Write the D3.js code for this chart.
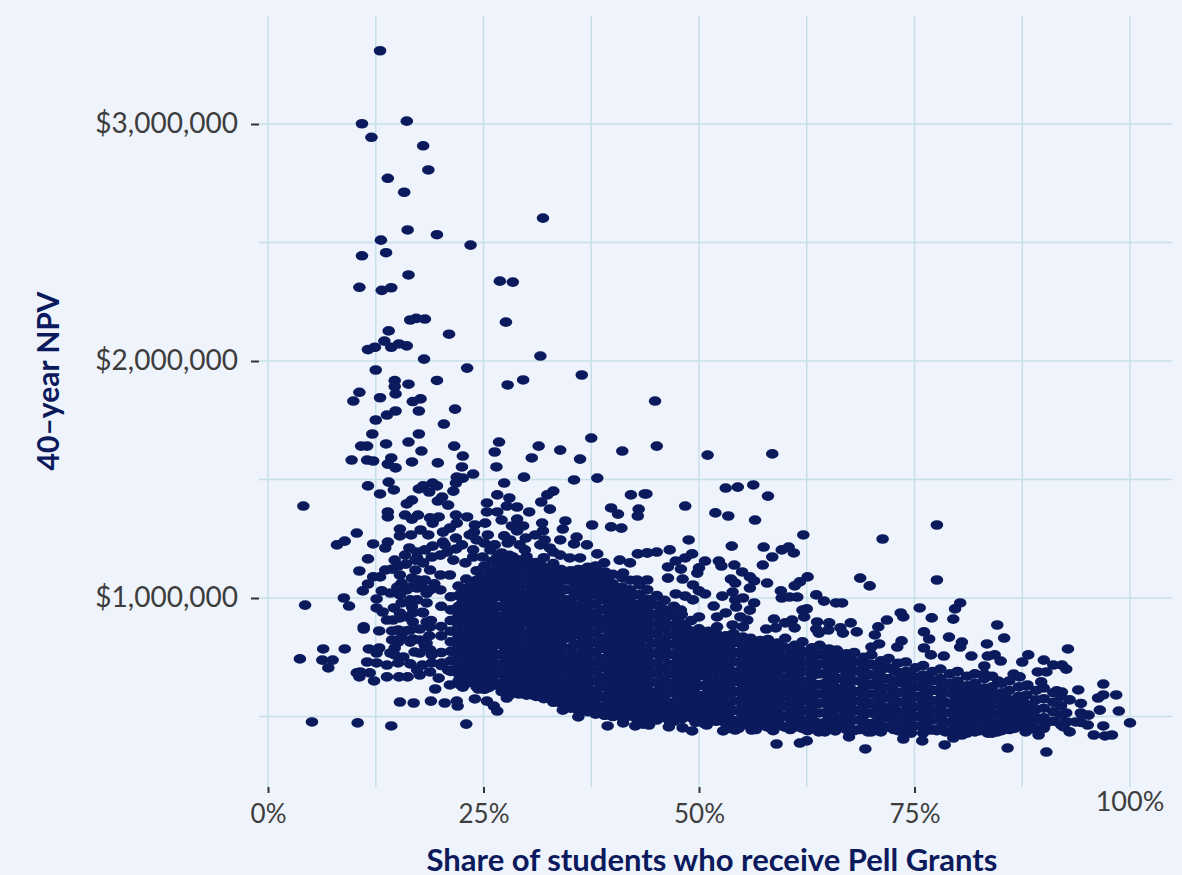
<!DOCTYPE html>
<html>
<head>
<meta charset="utf-8">
<script src="https://cdn.jsdelivr.net/npm/d3@7"></script>
<style>
  html, body { margin: 0; padding: 0; background: #eff3fb; overflow: hidden; }
  text { font-family: Lato, "Open Sans", sans-serif; }
</style>
</head>
<body>
<div id="chart"></div>
<script>
// Tick values and labels
const xTicks = [0, 25, 50, 75];
const xGrid = [0, 12.5, 25, 37.5, 50, 62.5, 75, 87.5, 100];
const yTicks = [1000, 2000, 3000];
const yGrid = [500, 1000, 1500, 2000, 2500, 3000];

// Individually readable colleges: [Pell share %, NPV in $ thousands]
const topPoints = [
  [13.0,3309],[10.9,3001],[16.1,3012],[12.0,2944],[18.0,2908],[18.6,2806],[13.9,2771],[15.8,2712],[16.2,2553],[19.6,2533],
  [13.1,2510],[10.9,2444],[13.7,2457],[16.3,2363],[10.6,2311],[13.2,2298],[14.3,2309],[16.5,2173],[17.2,2180],[18.2,2177],
  [21.0,2113],[14.0,2127],[13.5,2084],[15.2,2072],[16.1,2064],[14.3,2058],[12.4,2058],[11.6,2048],[18.1,2008],[12.5,1962],
  [14.7,1917],[14.7,1892],[16.3,1902],[19.6,1918],[10.6,1868],[14.8,1861],[13.0,1845],[9.9,1831],[17.7,1840],[16.8,1829],
  [31.9,2603],[23.5,2489],[26.9,2337],[28.4,2333],[27.6,2164],[31.6,2021],[23.1,1970],[36.4,1941],[29.6,1920],[27.8,1899],
  [44.9,1831],[21.7,1797],[20.4,1734],[17.5,1789],[14.8,1789],[13.8,1772],[12.5,1751],[17.5,1692],[12.1,1692],[16.3,1658],
  [13.7,1650],[10.8,1641],[11.5,1641],[21.6,1641],[26.8,1658],[26.3,1616],[17.8,1620],[22.6,1599],[31.4,1641],[30.6,1591],
  [33.9,1624],[37.5,1675],[41.1,1620],[36.2,1586],[9.7,1582],[11.5,1582],[12.2,1578],[14.3,1591],[13.9,1565],[14.8,1549],
  [16.7,1574],[19.7,1570],[22.5,1553],[26.5,1553],[23.8,1523],[21.9,1510],[22.6,1506],[29.7,1510],[35.5,1498],[38.2,1506],
  [27.4,1485],[11.6,1473],[14.0,1489],[13.0,1439],[14.6,1456],[18.0,1473],[19.1,1485],[19.6,1473],[17.5,1460],[18.7,1447],
  [21.8,1485],[21.5,1451],[26.6,1435],[28.0,1422],[33.1,1451],[32.4,1435],[31.7,1405],[42.1,1435],[43.7,1439],[4.1,1388],
  [20.2,1426],[16.7,1413],[16.1,1397],[19.7,1409],[20.9,1392],[25.4,1401],[25.4,1363],[26.6,1363],[27.7,1388],[28.9,1384],
  [30.3,1363],[32.7,1375],[39.8,1380],[40.6,1354],[43.0,1375],[42.9,1346],[13.9,1363],[13.9,1342],[15.9,1350],[16.7,1333],
  [17.4,1350],[18.8,1338],[19.8,1342],[19.1,1316],[21.8,1350],[23.1,1342],[21.9,1316],[21.1,1295],[20.3,1278],[25.2,1316],
  [24.0,1308],[23.9,1278],[27.1,1329],[28.9,1333],[28.3,1304],[29.6,1304],[28.9,1283],[31.8,1316],[31.9,1283],[34.5,1325],
  [34.2,1291],[37.6,1308],[39.8,1300],[41.0,1295],[15.3,1291],[15.3,1262],[16.6,1266],[17.7,1287],[18.6,1266],[10.3,1274],
  [8.9,1240],[8.0,1224],[12.2,1228],[13.9,1236],[13.6,1211],[16.4,1211],[19.1,1219],[20.3,1236],[21.8,1253],[21.8,1207],
  [27.4,1262],[27.8,1232],[29.9,1253],[32.1,1245],[31.6,1224],[35.8,1257],[35.5,1228],[37.0,1224],[25.1,1232],[29.8,1203],
  [33.1,1194],[38.2,1186],[39.0,1148],[40.8,1160],[42.0,1148],[42.9,1186],[44.0,1190],[11.6,1165],[10.6,1114],[16.0,1143],
  [15.1,1135],[14.4,1122],[17.3,1194],[17.3,1169],[18.0,1148],[23.8,1203],[25.8,1203],[27.1,1190],[36.2,1169],[35.0,1169],[33.9,1181]
];

// Left edge of the main cloud and the colleges under it
const leftPoints = [
  [12.2,1089],[13.0,1089],[11.6,1059],[11.0,1030],[13.2,1030],[8.8,1000],[12.6,996],[4.3,970],[9.4,966],[12.6,958],
  [13.3,941],[13.8,907],[14.6,958],[15.0,1025],[14.2,1021],[15.5,1063],[16.7,1084],[17.4,1076],[16.1,1034],[16.5,992],
  [15.5,979],[16.1,920],[15.3,916],[11.1,878],[11.1,869],[12.9,861],[14.4,861],[15.9,861],[17.6,869],[14.4,823],
  [15.5,835],[16.8,827],[6.4,785],[8.9,785],[11.7,785],[12.9,789],[12.6,768],[14.7,789],[14.7,760],[17.0,772],
  [3.7,743],[6.3,738],[7.5,738],[7.0,705],[11.5,730],[12.6,726],[13.8,717],[15.1,726],[16.5,722],[10.7,688],
  [10.3,684],[11.8,684],[10.6,667],[12.3,650],[13.8,667],[15.2,667],[16.2,667],[17.6,675],[18.8,688],[19.8,662],
  [20.9,696],[19.4,616],[21.1,633],[22.3,633],[24.4,616],[26.5,633],[25.8,654],[15.3,561],[16.9,557],[18.9,565],
  [20.5,557],[21.9,565],[22.0,544],[24.0,574],[25.4,565],[26.2,544],[26.6,523],[27.7,578],[5.1,477],[10.4,473],
  [14.3,460],[23.0,468],[39.4,460],[39.0,506],[41.2,473],[42.6,460],[43.5,468],[36.0,498],[34.2,527],[37.9,553],
  [42.1,536],[39.4,570],[33.1,570],[35.3,557],[40.5,570],[30.7,591],
  [17.9,940],[18.4,1020],[18.9,905],[18.2,800],[19.0,760],[19.3,1060],[18.7,840]
];

// Ragged upper and left fringe of the cloud
const fringePoints = [
  [19.0,1173],[20.8,1194],[21.5,1160],[22.9,1148],[23.8,1173],[24.9,1173],[26.6,1173],[27.3,1160],[28.4,1173],[29.6,1148],
  [30.7,1148],[31.9,1131],[33.1,1131],[34.2,1105],[35.0,1105],[36.5,1118],[38.2,1118],[39.4,1089],[41.2,1105],[42.8,1076],
  [44.0,1076],[15.0,1046],[16.5,1046],[15.3,1013],[17.3,1042],[17.9,1046],[16.7,962],[17.3,992],[18.4,979],[15.3,937],
  [16.8,937],[18.0,937],[14.5,907],[16.8,899],[18.4,899],[15.1,865],[16.5,865],[18.8,878],[15.1,814],[16.5,814],
  [17.6,823],[18.4,810],[14.2,768],[15.7,751],[17.6,768],[18.8,781],[17.9,717],[19.0,726],[20.2,726],[17.3,696],
  [22.3,667],[23.4,667],[24.9,667],[21.5,696],[22.6,624],[24.2,1245],[25.5,1266],[26.3,1224],[28.1,1245],[29.2,1224],
  [31.0,1266],[32.7,1211],[33.9,1245],[23.4,1266],[22.5,1224],[20.5,1224],[20.0,1181],[18.2,1203],[17.1,1160],[15.9,1181],
  [14.7,1160],[15.3,1097],[13.6,1118],[18.8,1118],[20.0,1097],[21.1,1097],[18.2,1076],[17.1,1118],[20.0,1034],[18.8,1034]
];

// Scattered colleges above and below the long right-hand band
const rightPoints = [
  [45.1,1641],[51.0,1603],[58.5,1608],[43.9,1439],[48.4,1388],[53.1,1464],[54.5,1468],[56.3,1477],[58.0,1430],[51.9,1359],
  [53.4,1346],[56.5,1329],[62.1,1266],[48.8,1245],[71.3,1249],[77.6,1308],[77.6,1076],[53.8,1219],[57.5,1215],[59.6,1203],
  [60.4,1215],[61.0,1190],[58.5,1173],[57.4,1139],[57.9,1063],[62.6,1089],[61.7,1068],[61.1,1051],[68.7,1084],[69.8,1051],
  [46.6,1203],[45.1,1194],[44.0,1190],[49.2,1186],[48.4,1169],[47.3,1156],[50.7,1156],[52.3,1156],[52.6,1135],[54.1,1139],
  [50.0,1127],[49.8,1105],[47.9,1122],[48.1,1080],[46.4,1131],[46.4,1084],[55.0,1110],[55.9,1089],[56.4,1072],[53.7,1080],
  [55.9,1042],[54.2,1063],[49.3,1055],[50.0,1030],[50.7,1017],[52.7,1008],[53.9,1025],[47.3,1017],[48.4,1008],[49.3,992],
  [54.2,992],[55.1,1000],[56.4,979],[54.3,962],[55.9,949],[51.7,966],[53.1,937],[52.1,920],[47.9,949],[50.0,920],
  [54.8,920],[55.6,907],[52.1,878],[53.9,886],[55.1,878],[59.5,1030],[59.6,1000],[60.5,1004],[61.4,1004],[63.6,1013],
  [64.5,987],[65.9,979],[66.6,979],[62.5,954],[62.0,949],[62.2,920],[60.8,907],[60.0,895],[58.7,911],[61.1,874],
  [57.8,869],[58.9,874],[67.6,895],[68.3,857],[63.7,899],[65.1,895],[66.4,874],[63.6,869],[65.0,865],[63.9,852],
  [66.7,852],[71.8,907],[70.8,878],[70.4,844],[73.4,937],[73.7,920],[75.6,958],[77.0,916],[80.3,979],[79.7,954],
  [79.5,911],[76.1,857],[76.7,827],[79.0,835],[80.5,814],[80.3,793],[84.6,886],[85.4,831],[83.4,806],[73.5,819],
  [73.0,793],[70.9,806],[70.0,793],[76.1,789],[76.9,760],[78.4,755],[81.6,755],[83.5,755],[84.3,760],[85.0,734],
  [88.2,760],[87.5,730],[90.0,738],[92.8,785],[91.1,717],[92.1,717],[92.6,700],[89.3,688],[90.3,688],[89.7,646],
  [86.5,679],[87.2,667],[88.1,633],[84.7,650],[83.1,679],[83.1,713],[96.9,637],[94.0,612],[91.5,608],[92.1,603],
  [93.0,570],[96.3,578],[96.9,591],[98.4,591],[96.5,527],[98.7,523],[100,473],[94.4,510],[95.2,506],[92.6,515],
  [89.0,498],[92.7,477],[93.7,477],[95.1,464],[96.9,460],[90.1,464],[92.3,456],[93.0,435],[89.4,422],[87.9,435],
  [95.8,422],[97.1,418],[97.9,422],[90.3,350],[85.8,367],[78.5,380],[75.9,397],[73.7,405],[69.3,363],[67.4,414],
  [62.5,397],[61.7,388],[59.0,384],[79.5,409],[49.2,439],[48.1,452],[46.5,456],[50.9,464],[50.6,494],[52.8,439],
  [54.2,443],[56.1,443],[57.9,456],[60.3,452],[63.9,435],[65.8,439],[71.1,435],[76.9,443],[83.5,430],[80.5,422],
  [46.3,515],[48.5,510],[44.3,506],[44.2,464]
];

// Solid part of the cloud, estimated column by column (individual dots overlap here)
const coreShares = [
  20.1,21.2,22.1,23.0,24.2,25.1,26.0,27.1,28.0,29.1,30.0,31.1,32.0,33.1,34.0,35.1,36.0,37.1,38.0,39.1,
  40.0,41.1,42.0,43.1,44.0,45.1,46.0,47.1,48.0,49.1,50.0,51.1,52.0,53.1,54.0,55.1,56.0,57.1,58.0,59.1,
  60.0,61.1,62.0,63.1,64.0,65.1,66.0,67.1,68.0,69.1,70.0,71.1,72.0,73.1,74.0,75.1,76.0,77.1,78.0,79.1,
  80.0,81.1,82.0,83.1,84.0,85.1,86.0,87.1,88.0,89.1,90.0,91.1,92.0,94.3
];
const coreNpvs = [
  [965,880,840,770,715],
  [1005,950,905,860,815,775,735,690],
  [1050,1010,965,925,885,840,800,760,720,680,650],
  [1080,1040,1000,960,920,880,835,795,755,715,675,640],
  [1115,1075,1030,990,950,910,870,830,785,745,705,665,625],
  [1135,1095,1055,1015,975,930,890,850,810,770,730,690,650,615],
  [1155,1115,1075,1035,995,950,910,870,830,790,750,710,670,630],
  [1165,1125,1085,1045,1005,965,920,880,840,800,760,720,680,640,605],
  [1180,1140,1100,1060,1020,980,940,895,855,815,775,735,695,655,615,590],
  [1160,1120,1080,1040,1000,960,915,875,835,795,755,715,675,635,595],
  [1175,1135,1095,1055,1015,975,935,895,850,810,770,730,690,650,610,590],
  [1150,1110,1070,1030,990,950,910,870,830,785,745,705,665,625,585],
  [1170,1130,1090,1050,1010,970,930,890,845,805,765,725,685,645,605,575],
  [1145,1105,1065,1025,985,945,905,865,825,780,740,700,660,620,580,560],
  [1120,1080,1040,1000,960,920,880,840,800,755,715,675,635,595,555],
  [1115,1075,1035,995,955,915,875,835,790,750,710,670,630,590,550,535],
  [1120,1090,1050,1010,970,930,890,850,805,765,725,685,645,605,565,525],
  [1130,1085,1045,1005,965,925,885,845,800,760,720,680,640,600,560,520],
  [1135,1095,1055,1015,975,935,895,855,810,770,730,690,650,610,570,530,510],
  [1110,1070,1030,990,950,910,870,825,785,745,705,665,625,585,545,505],
  [1100,1060,1020,980,940,900,860,815,775,735,695,655,615,575,535,500],
  [1085,1045,1005,965,925,885,845,800,760,720,680,640,600,560,520,495],
  [1075,1035,995,955,915,875,830,790,750,710,670,630,590,550,510],
  [1055,1015,975,935,895,855,815,770,730,690,650,610,570,530,490],
  [1035,995,955,915,875,835,790,750,710,670,630,590,550,510],
  [1010,970,930,890,850,810,770,725,685,645,605,565,525,485],
  [990,950,910,870,830,790,750,705,665,625,585,545,505],
  [965,925,885,845,805,760,720,680,640,600,560,520,480],
  [930,890,850,810,770,725,685,645,605,565,525,490],
  [905,860,820,780,740,700,655,615,575,535,495],
  [870,830,790,750,710,670,630,585,545,505,480],
  [860,820,775,735,695,655,615,575,535,490],
  [850,805,765,725,685,645,605,560,520,480],
  [840,800,760,715,675,635,595,555,515,470],
  [850,810,770,730,685,645,605,565,525,480],
  [835,795,755,710,670,630,590,550,505,465],
  [830,790,750,705,665,625,585,545,505,460],
  [820,780,735,695,655,615,575,530,490],
  [825,785,745,700,660,620,580,540,495,460],
  [810,770,730,690,650,605,565,525,480],
  [830,790,745,705,665,625,585,540,500,455],
  [800,760,720,680,640,600,555,515,470],
  [815,775,730,690,650,610,570,525,485,450],
  [790,750,710,670,625,585,545,505,460],
  [800,760,720,680,635,595,555,515,470,440],
  [785,745,700,660,620,580,540,495,455],
  [780,740,700,660,615,575,535,495,450],
  [765,725,685,640,600,560,520,480,445],
  [770,730,690,650,605,565,525,485,440],
  [750,710,665,625,585,545,505,460],
  [760,720,675,635,595,555,515,470,435],
  [735,695,655,610,570,530,490,450],
  [745,705,660,620,580,540,500,455],
  [725,685,645,600,560,520,480,440],
  [730,690,650,605,565,525,485,445],
  [705,665,625,585,540,500,460],
  [715,675,630,590,550,510,465,430],
  [690,650,610,565,525,485,445],
  [700,660,615,575,535,495,450],
  [680,640,600,555,515,475,435],
  [690,650,605,565,525,485,445,425],
  [670,630,590,550,505,465,430],
  [680,640,595,555,515,475,435],
  [660,620,575,535,495,455],
  [670,625,585,545,505,465,430],
  [640,600,555,515,475,440],
  [650,610,565,525,485,445],
  [625,585,545,500,460],
  [630,590,550,510,470,440],
  [610,570,530,485,445],
  [620,575,535,495,450],
  [600,560,520,480],
  [585,545,505,465],
  [555,515,475],
  [555,470,445]
];

// Second pass over the solid part, read between the columns above
const fillShares = [
  22.6,23.6,24.7,25.6,26.7,27.6,28.6,29.6,30.6,31.6,32.6,33.6,34.6,35.6,36.6,37.6,38.6,39.6,40.6,41.6,
  42.6,43.6,44.6,45.6,46.6,47.6,48.6,49.6,50.6,51.6,52.6,53.6,54.6,55.6,56.6,57.6,58.6,59.6,60.6,61.6,
  62.6,63.6,64.6,65.6,66.6,67.6,68.6,69.6,70.6,71.6,72.6,73.6,74.6,75.6,76.6,77.6,78.6,79.6,80.6,81.6,
  82.6,83.6,84.6,85.6,86.6,87.6,88.6
];
const fillNpvs = [
  [1030,985,945,900,860,820,780,740,700,655],
  [1060,1015,975,935,895,850,810,770,730,690,645],
  [1085,1045,1005,965,920,880,840,800,760,720,675,635],
  [1105,1065,1025,985,940,900,860,820,780,735,695,655,622],
  [1130,1090,1050,1010,965,925,885,845,805,760,720,680,640],
  [1120,1080,1035,995,955,915,875,830,790,750,710,670,625],
  [1150,1110,1070,1030,990,945,905,865,825,785,745,700,660,620],
  [1135,1095,1055,1010,970,930,890,850,810,765,725,685,645,605],
  [1120,1080,1040,1000,955,915,875,835,795,755,710,670,630,600],
  [1140,1100,1060,1020,980,940,900,855,815,775,735,695,650,610],
  [1115,1075,1035,995,950,910,870,830,790,750,705,665,625,585],
  [1095,1055,1010,970,930,890,850,805,765,725,685,645,600,565],
  [1075,1035,990,950,910,870,830,785,745,705,665,625,580,545],
  [1090,1050,1010,965,925,885,845,805,760,720,680,640,600,555],
  [1070,1030,990,945,905,865,825,785,740,700,660,620,580,535],
  [1100,1060,1020,975,935,895,855,815,770,730,690,650,610,570,530],
  [1075,1035,995,950,910,870,830,790,745,705,665,625,585,540],
  [1050,1010,965,925,885,845,805,760,720,680,640,600,555,515],
  [1040,1000,955,915,875,835,795,750,710,670,630,590,545,505],
  [1025,985,940,900,860,820,780,735,695,655,615,575,530,500],
  [1015,970,930,890,850,805,765,725,685,640,600,560,520,495],
  [995,950,910,870,830,785,745,705,665,620,580,540,500],
  [975,930,890,850,810,765,725,685,645,600,560,520,485],
  [950,910,870,825,785,745,705,660,620,580,540,495],
  [930,885,845,805,765,720,680,640,600,555,515,480],
  [905,865,825,780,740,700,660,615,575,535,495],
  [870,830,790,745,705,665,625,580,540,500],
  [845,805,760,720,680,640,595,555,515,475],
  [840,795,755,715,675,630,590,550,510,470],
  [830,785,745,705,665,620,580,540,500],
  [815,775,735,695,650,610,570,530,490],
  [820,780,740,695,655,615,575,530,490,450],
  [815,770,730,690,650,605,565,525,485,450],
  [810,765,725,685,645,600,560,520,480],
  [805,765,720,680,640,600,555,515,475,445],
  [795,755,715,670,630,590,550,505,465],
  [800,755,715,675,635,590,550,510,470,440],
  [790,750,710,665,625,585,545,500,460],
  [775,735,695,650,610,570,530,490,445],
  [785,745,705,660,620,580,540,495,455],
  [770,730,690,645,605,565,525,485,440],
  [760,720,680,635,595,555,515,475,445],
  [765,725,680,640,600,560,515,475,435],
  [755,710,670,630,590,550,505,465],
  [745,705,660,620,580,540,500,460],
  [740,700,655,615,575,535,490,450],
  [730,690,650,605,565,525,485,445],
  [720,680,635,595,555,515,470,435],
  [710,670,630,590,545,505,465],
  [705,660,620,580,535,495,455],
  [695,650,610,570,530,485,445],
  [680,640,600,560,515,475,435],
  [675,630,590,550,510,465,430],
  [665,625,580,540,500,460],
  [660,615,575,535,495,450],
  [650,610,565,525,485,440],
  [640,600,560,515,475,435],
  [630,590,545,505,465],
  [620,580,540,500,455],
  [615,570,530,490,450],
  [605,565,525,480,440],
  [600,555,515,475],
  [590,550,510,470,435],
  [580,540,495,455],
  [570,530,490,450],
  [560,520,480],
  [545,505,465]
];

// Merge everything into one list of points for the join
const points = topPoints.concat(leftPoints, fringePoints, rightPoints);
coreShares.forEach((share, i) => {
    coreNpvs[i].forEach(npv => points.push([share, npv]));
});
fillShares.forEach((share, i) => {
    fillNpvs[i].forEach(npv => points.push([share, npv]));
});

const svg = d3.select('#chart')
    .append('svg')
    .attr('width', 1182)
    .attr('height', 875);

// Scales
const xScale = d3.scaleLinear().domain([0, 100]).range([268, 1130]);
const yScale = d3.scaleLinear().domain([1000, 3000]).range([598, 124]);

const gridColor = '#c6e0e9';
const inkColor = '#0a1a5c';
const labelColor = '#3d3d3d';

// Grid
svg.append('g').selectAll('line')
    .data(xGrid)
    .join('line')
    .attr('x1', d => xScale(d))
    .attr('x2', d => xScale(d))
    .attr('y1', 16)
    .attr('y2', 787)
    .style('stroke', gridColor)
    .style('stroke-width', 1.5);

svg.append('g').selectAll('line')
    .data(yGrid)
    .join('line')
    .attr('x1', 259)
    .attr('x2', 1172)
    .attr('y1', d => yScale(d))
    .attr('y2', d => yScale(d))
    .style('stroke', gridColor)
    .style('stroke-width', 1.5);

// Axes
const xAxis = svg.append('g')
    .attr('transform', 'translate(0,787)')
    .call(d3.axisBottom(xScale).tickValues(xTicks).tickFormat(d => d + '%').tickSize(6).tickPadding(12));

const yAxis = svg.append('g')
    .attr('transform', 'translate(259,0)')
    .call(d3.axisLeft(yScale).tickValues(yTicks).tickFormat(d => '$' + d3.format(',')(d * 1000)).tickSize(8).tickPadding(13));

[xAxis, yAxis].forEach(axis => {
    axis.select('.domain').remove();
    axis.selectAll('line').style('stroke', '#333333').style('stroke-width', 2);
    axis.selectAll('text')
        .style('font-weight', 400)
        .style('fill', labelColor);
});
xAxis.selectAll('text').style('font-size', '26px');
yAxis.selectAll('text').style('font-size', '28px');

// 100% sits higher than the other labels and has no tick
svg.append('text')
    .attr('x', xScale(100))
    .attr('y', 811)
    .attr('text-anchor', 'middle')
    .style('font-size', '27px')
    .style('fill', labelColor)
    .text('100%');

// Axis titles
svg.append('text')
    .attr('x', 712)
    .attr('y', 871)
    .attr('text-anchor', 'middle')
    .style('font-size', '31px')
    .style('font-weight', 700)
    .style('fill', inkColor)
    .text('Share of students who receive Pell Grants');

svg.append('text')
    .attr('transform', 'translate(59,381) rotate(-90)')
    .attr('text-anchor', 'middle')
    .style('font-size', '30px')
    .style('font-weight', 700)
    .style('fill', inkColor)
    .text('40\u2013year NPV');

// Points
svg.append('g').selectAll('ellipse')
    .data(points)
    .join('ellipse')
    .attr('cx', d => xScale(d[0]))
    .attr('cy', d => yScale(d[1]))
    .attr('rx', 6.3)
    .attr('ry', 4.8)
    .style('fill', inkColor);
</script>
</body>
</html>
